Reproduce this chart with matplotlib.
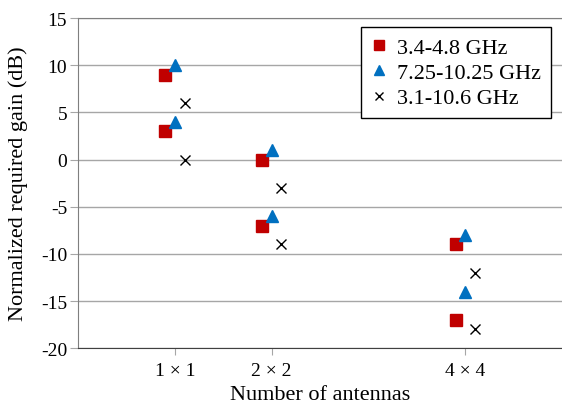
import numpy as np
import matplotlib.pyplot as plt

plt.rcParams['font.family'] = ['Liberation Serif', 'DejaVu Serif']
plt.rcParams['axes.unicode_minus'] = False

# Category positions (antennas per side) and labels
positions = [1, 2, 4]
tick_labels = ['1 \u00d7 1', '2 \u00d7 2', '4 \u00d7 4']

# Two values per configuration for each band
band_names = ['3.4-4.8 GHz', '7.25-10.25 GHz', '3.1-10.6 GHz']
gain_low_band = [[9, 3], [0, -7], [-9, -17]]
gain_mid_band = [[10, 4], [1, -6], [-8, -14]]
gain_uwb = [[6, 0], [-3, -9], [-12, -18]]

fig = plt.figure(figsize=(5.62, 4.06), dpi=100)
ax = fig.add_axes([0.139, 0.140, 0.861, 0.813])

series = [
    (gain_low_band, -0.1, dict(marker='s', color='#C00000', markersize=8.5)),
    (gain_mid_band, 0.0, dict(marker='^', color='#0070C0', markersize=9)),
    (gain_uwb, 0.1, dict(marker='x', color='black', markersize=7.5, markeredgewidth=1.0)),
]

for (values, offset, style), name in zip(series, band_names):
    xs = []
    ys = []
    for pos, pair in zip(positions, values):
        for v in pair:
            xs.append(pos + offset)
            ys.append(v)
    ax.plot(xs, ys, linestyle='none', label=name, **style)

ax.set_xlim(0, 5)
ax.set_ylim(-20, 15)
ax.set_yticks(np.arange(-20, 16, 5))
ax.set_xticks(positions)
ax.set_xticklabels(tick_labels)

ax.grid(axis='y', color='#A6A6A6', linewidth=1.0)
ax.set_axisbelow(True)
ax.spines['right'].set_visible(False)
ax.spines['top'].set_color('#7F7F7F')
ax.spines['left'].set_color('#7F7F7F')
ax.spines['bottom'].set_color('#404040')
ax.tick_params(axis='y', length=6, color='#A6A6A6', labelsize=14, pad=2)
ax.tick_params(axis='x', length=5, color='#A6A6A6', labelsize=14, pad=5)

ax.set_xlabel('Number of antennas', fontsize=16, labelpad=4)
ax.set_ylabel('Normalized required gain (dB)', fontsize=16, labelpad=9)

leg = ax.legend(loc='upper right', bbox_to_anchor=(0.977, 0.973), borderaxespad=0,
                fontsize=16, handlelength=0.7, handletextpad=0.45, markerscale=0.8,
                fancybox=False, framealpha=1, edgecolor='black',
                labelspacing=0.22, borderpad=0.45)
leg.get_frame().set_linewidth(1.0)

fig.savefig('out.png', dpi=100)
